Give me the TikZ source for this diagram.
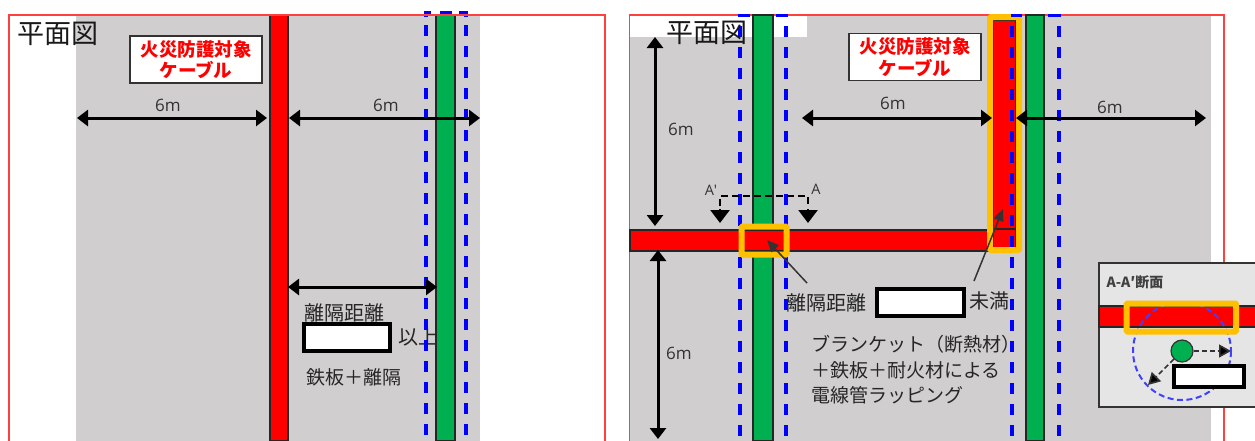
\documentclass[tikz,border=0pt]{standalone}
\usepackage{fontspec}
\setmainfont{Noto Sans CJK JP}
\newfontfamily\latinf{Open Sans}
\usetikzlibrary{arrows.meta}
\definecolor{gr}{HTML}{D0CECE}
\definecolor{grn}{HTML}{00B050}
\definecolor{org}{HTML}{FFC000}
\definecolor{frm}{HTML}{FF4040}
\newcommand{\fsz}[1]{\fontsize{#1}{#1}\selectfont}
% vertical run of blue dashes: x, first y
\newcommand{\bluerun}[2]{\foreach \k in {0,...,20}{\fill[blue] ({#1-1.6},{#2+21*\k}) rectangle ({#1+1.6},{min(#2+21*\k+11,441)});}}
\tikzset{
 x=1pt,y=-1pt,
 panel/.style={draw=frm,line width=1.5pt},
 grayarea/.style={fill=gr,draw=none},
 redbar/.style={fill=red,draw=black!85,line width=1.4pt},
 greenbar/.style={fill=grn,draw=black!85,line width=1.4pt},
 bluetop/.style={fill=blue,draw=none},
 orangebox/.style={draw=org,line width=6pt,rounded corners=1pt},
 dim/.style={draw=black,line width=3pt,{Triangle[width=16pt,length=11pt]}-{Triangle[width=16pt,length=11pt]}},
 dist/.style={font=\latinf\fsz{17},text=black!80,inner sep=0pt},
 jp/.style={font=\fsz{20},text=black!85,inner sep=0pt},
 jps/.style={font=\fsz{19},text=black!85,inner sep=0pt,anchor=west},
 title/.style={font=\fsz{27},text=black!90,inner sep=0pt},
 cablelabel/.style={draw=black!80,fill=white,line width=1.3pt,inner sep=0pt,font=\bfseries\fsz{18.5},text=red,align=center,minimum height=47pt,minimum width=132pt},
 blankbox/.style={draw=black,fill=white,line width=4pt,inner sep=0pt},
 pointer/.style={draw=black!80,line width=1.5pt,-{Triangle[width=10pt,length=12pt]}},
}
\begin{document}
\begin{tikzpicture}
\useasboundingbox (0,0) rectangle (1255,440);
% ---------- left panel
\fill[grayarea] (76,15) rectangle (480,441);
\node[title] (t1) at (58,34) {平面図};
\node[cablelabel] (c1) at (196,59.5) {火災防護対象\\[3pt]ケーブル};
\node[jp] (sep1) at (344,313) {離隔距離};
\node[jp] (up1) at (418,337) {以上};
\node[jps] (st1) at (306,377) {鉄板＋離隔};
\draw[redbar] (270,15) rectangle (288,441);
\draw[greenbar] (436,15) rectangle (455,441);
\bluerun{426}{25}
\bluerun{466}{25}
\fill[bluetop] (424.4,10.5) rectangle (431,13.5);
\fill[bluetop] (440,10.5) rectangle (452,13.5);
\fill[bluetop] (459,10.5) rectangle (467.6,13.5);
\fill[bluetop] (424.4,10.5) rectangle (427.6,17);
\fill[bluetop] (464.4,10.5) rectangle (467.6,17);
\coordinate (l1) at (77,118); \coordinate (l2) at (267,118);
\coordinate (l3) at (289,118); \coordinate (l4) at (480,118);
\coordinate (l5) at (288,287); \coordinate (l6) at (437,287);
\draw[dim] (l1) -- (l2);
\draw[dim] (l3) -- (l4);
\draw[dim] (l5) -- (l6);
\node[dist] (d1) at (168,105) {6m};
\node[dist] (d2) at (386,105) {6m};
\node[blankbox,minimum width=86pt,minimum height=27pt] (b1) at (346.5,337) {};
\draw[panel] (9,441) -- (9,15) -- (605,15) -- (605,441);
% ---------- right panel
\fill[grayarea] (629,15) rectangle (1211,441);
\fill[white] (629,15) rectangle (807,37);
\draw[panel] (629.5,441) -- (629.5,15) -- (1224,15) -- (1224,441);
\draw[greenbar] (753,15) rectangle (773,441);
\bluerun{740}{26}
\bluerun{786}{26}
\fill[bluetop] (738.4,14) rectangle (750,17);
\fill[bluetop] (776,14) rectangle (787.6,17);
\draw[greenbar] (1026,15) rectangle (1044,441);
\bluerun{1012}{26}
\bluerun{1059}{26}
\fill[bluetop] (1048,14) rectangle (1060.6,17);
\draw[redbar] (630,230) rectangle (1016,251);
\draw[redbar] (993,20) rectangle (1016,248);
\draw[black!85,line width=1.4pt] (993,229) -- (1016,229);
\begin{scope}
\clip (1008,20) rectangle (1016,248);
\bluerun{1012}{26}
\end{scope}
\draw[orangebox] (990,17) rectangle (1019,250);
\fill[bluetop] (1011,14) rectangle (1022,17);
\draw[orangebox] (741.5,226.5) rectangle (786.5,254.5);
\node[title] (t2) at (707,33) {平面図};
\node[cablelabel] (c2) at (915,57) {火災防護対象\\[3pt]ケーブル};
\coordinate (r1) at (655,37); \coordinate (r2) at (655,226);
\coordinate (r3) at (658,250); \coordinate (r4) at (658,439);
\coordinate (r5) at (802,118); \coordinate (r6) at (992,118);
\coordinate (r7) at (1016,118); \coordinate (r8) at (1206,118);
\draw[dim] (r1) -- (r2);
\draw[dim] (r3) -- (r4);
\draw[dim] (r5) -- (r6);
\draw[dim] (r7) -- (r8);
\node[dist] (d3) at (681,129) {6m};
\node[dist] (d4) at (679,353) {6m};
\node[dist] (d5) at (893,103) {6m};
\node[dist] (d6) at (1110,107) {6m};
% section mark
\coordinate (s1) at (720,223); \coordinate (s2) at (720,196);
\coordinate (s3) at (808,196); \coordinate (s4) at (808,223);
\draw[black,line width=2.5pt,dash pattern=on 7pt off 4pt] (720,206) -- (s2) -- (s3) -- (808,206);
\draw[black,line width=2.5pt,-{Triangle[width=19pt,length=13pt]}] (720,209) -- (s1);
\draw[black,line width=2.5pt,-{Triangle[width=19pt,length=13pt]}] (808,209) -- (s4);
\node[dist,font=\latinf\fsz{14.5}] (a1) at (711,190) {A′};
\node[dist,font=\latinf\fsz{14.5}] (a2) at (816,189) {A};
% pointers
\node[jp] (sep2) at (826,303) {離隔距離};
\node[blankbox,minimum width=87pt,minimum height=27pt] (b2) at (920.5,302.5) {};
\node[jp] (un) at (989,301) {未満};
\coordinate (p1) at (807,283); \coordinate (p2) at (767,240);
\coordinate (p3) at (974,281); \coordinate (p4) at (1003,209);
\draw[pointer] (p1) -- (p2);
\draw[pointer] (p3) -- (p4);
\node[jps] (w1) at (811,344) {ブランケット（断熱材）};
\node[jps] (w2) at (811,370) {＋鉄板＋耐火材による};
\node[jps] (w3) at (811,395) {電線管ラッピング};
% inset
\fill[gr] (1099,263) rectangle (1255,407);
\fill[black!10] (1100,264) rectangle (1255,406);
\draw[black!80,line width=1.3pt] (1256,263) -- (1099,263) -- (1099,407) -- (1256,407);
\node[font=\bfseries\fsz{14},text=black!75,inner sep=0pt] (ti) at (1135,282) {A-A′断面};
\draw[redbar] (1099,306) rectangle (1257,327);
\node[draw=black!80,fill=grn,circle,line width=1.2pt,minimum size=22pt,inner sep=0pt] (gc) at (1182,351) {};
\coordinate (q1) at (1231,351); \coordinate (q2) at (1148,385);
\draw[black!80,line width=1.7pt,dash pattern=on 5pt off 3pt,-{Triangle[width=13pt,length=12pt,fill=black]}] (gc) -- (q1);
\draw[black!80,line width=1.7pt,dash pattern=on 5pt off 3pt,-{Triangle[width=13pt,length=12pt,fill=black]}] (gc) -- (q2);
\draw[blue!75!white,line width=2pt,dash pattern=on 6pt off 3.5pt] (1182,351) circle[radius=49];
\draw[org,line width=6pt,rounded corners=1pt] (1126.5,303.5) rectangle (1236,331.5);
\node[blankbox,minimum width=70pt,minimum height=21pt] (b3) at (1208.5,376.5) {};
\end{tikzpicture}
\end{document}
